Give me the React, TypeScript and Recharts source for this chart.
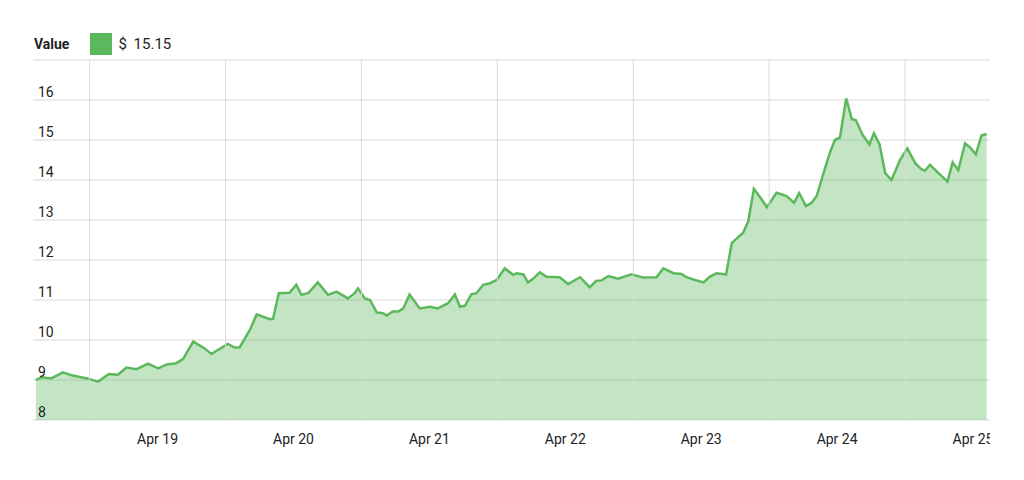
import { Area, AreaChart, CartesianGrid, ReferenceLine, XAxis, YAxis } from 'recharts';

// hours since Apr 18 00:00
const hours = [
  2.5, 3.5, 5.2, 7.3, 9.0, 10.5, 11.6, 13.5, 15.4, 17.0,
  18.5, 20.3, 22.3, 24.1, 25.6, 27.3, 28.5, 30.3, 32.3, 33.5,
  36.4, 37.6, 38.5, 40.3, 41.5, 43.8, 44.4, 45.4, 47.3, 48.5,
  49.4, 50.6, 52.3, 54.1, 55.6, 57.6, 58.8, 59.4, 60.6, 61.5,
  62.7, 63.8, 64.5, 65.5, 66.5, 67.4, 68.5, 70.3, 72.1, 73.5,
  75.3, 76.5, 77.4, 78.3, 79.4, 80.3, 81.5, 82.7, 83.9, 85.3,
  86.8, 87.4, 88.6, 89.4, 90.3, 91.5, 92.7, 95.0, 96.5, 98.6,
  100.3, 101.5, 102.4, 103.6, 105.3, 107.7, 109.8, 112.1, 113.3, 115.1,
  116.5, 117.4, 118.9, 120.4, 121.5, 122.7, 124.4, 125.4, 126.3, 127.4,
  128.3, 129.3, 130.4, 131.6, 133.3, 135.1, 136.4, 137.3, 138.5, 139.5,
  140.4, 141.6, 142.7, 143.6, 144.5, 145.6, 146.6, 147.3, 148.5, 149.7,
  150.5, 151.5, 152.5, 153.6, 155.1, 156.4, 157.8, 158.8, 159.5, 160.4,
  161.9, 163.5, 164.4, 165.4, 166.6, 167.5, 168.5, 169.5, 170.4
];

const prices = [
  9.0, 9.07, 9.04, 9.19, 9.11, 9.07, 9.04, 8.96, 9.15, 9.13,
  9.31, 9.27, 9.41, 9.29, 9.39, 9.42, 9.52, 9.96, 9.79, 9.65,
  9.9, 9.81, 9.82, 10.25, 10.64, 10.52, 10.53, 11.17, 11.18, 11.38,
  11.13, 11.17, 11.44, 11.13, 11.21, 11.04, 11.17, 11.29, 11.04, 11.0,
  10.69, 10.67, 10.61, 10.71, 10.71, 10.79, 11.14, 10.79, 10.83, 10.79,
  10.92, 11.14, 10.83, 10.86, 11.14, 11.17, 11.38, 11.42, 11.5, 11.79,
  11.63, 11.67, 11.64, 11.44, 11.53, 11.69, 11.58, 11.57, 11.4, 11.57,
  11.32, 11.48, 11.49, 11.6, 11.53, 11.64, 11.56, 11.57, 11.79, 11.67,
  11.65, 11.57, 11.5, 11.44, 11.58, 11.67, 11.64, 12.42, 12.54, 12.68,
  12.96, 13.78, 13.57, 13.32, 13.68, 13.6, 13.43, 13.67, 13.35, 13.43,
  13.6, 14.17, 14.67, 15.0, 15.06, 16.04, 15.52, 15.5, 15.13, 14.89,
  15.17, 14.89, 14.17, 14.0, 14.5, 14.79, 14.42, 14.28, 14.23, 14.38,
  14.17, 13.96, 14.44, 14.25, 14.92, 14.81, 14.64, 15.11, 15.15
];

const dayTicks = [24, 48, 72, 96, 120, 144, 168];
const dayLabels = ['Apr 19', 'Apr 20', 'Apr 21', 'Apr 22', 'Apr 23', 'Apr 24', 'Apr 25'];
const noonLines = [12, 36, 60, 84, 108, 132, 156];
const yTicks = [8, 9, 10, 11, 12, 13, 14, 15, 16, 17];
const lastValue = '$ 15.15';

const data = hours.map((t, i) => ({ t, v: prices[i] }));

const GREEN = '#5cb85c';
const GRID = '#d9d9d9';
const FONT = 'Roboto, Helvetica, Arial, sans-serif';
const margin = { top: 52, right: 0, bottom: 30, left: 25 };

// labels sit inside the plot, just above their grid line
const renderYTick = (props: any) => {
  const value = props.payload?.value;
  if (value === 17) return <g />;
  return (
    <text x={margin.left + 5} y={props.y - 3} fill='#222' fontSize={14} fontFamily={FONT} textAnchor='start'>
      {value}
    </text>
  );
};

export default function App() {
  return (
    <div style={{ position: 'relative', width: 982, height: 472, fontFamily: FONT }}>
      <div
        style={{
          position: 'absolute',
          left: 26,
          top: 25,
          height: 22,
          display: 'flex',
          alignItems: 'center',
          fontSize: 15,
          color: '#222'
        }}
      >
        <span style={{ fontWeight: 700, fontSize: 14 }}>Value</span>
        <span style={{ width: 22, height: 22, background: GREEN, marginLeft: 21, display: 'inline-block' }} />
        <span style={{ marginLeft: 6, wordSpacing: 3 }}>{lastValue}</span>
      </div>
      <AreaChart width={982} height={472} data={data} margin={margin}>
        <CartesianGrid vertical={false} stroke={GRID} />
        <XAxis
          dataKey='t'
          type='number'
          domain={[2, 171]}
          ticks={dayTicks}
          interval={0}
          allowDataOverflow
          axisLine={false}
          tickLine={false}
          tickMargin={8}
          tick={{ fill: '#222', fontSize: 14, fontFamily: FONT }}
          tickFormatter={(v: number) => dayLabels[dayTicks.indexOf(v)]}
          height={30}
        />
        <YAxis
          domain={[8, 17]}
          ticks={yTicks}
          interval={0}
          mirror
          width={40}
          axisLine={false}
          tickLine={false}
          tick={renderYTick}
        />
        {noonLines.map((h) => (
          <ReferenceLine key={h} x={h} stroke={GRID} />
        ))}
        <Area
          type='linear'
          dataKey='v'
          stroke={GREEN}
          strokeWidth={2.5}
          fill={GREEN}
          fillOpacity={0.36}
          baseValue={8}
          isAnimationActive={false}
          dot={false}
          activeDot={false}
        />
      </AreaChart>
    </div>
  );
}
